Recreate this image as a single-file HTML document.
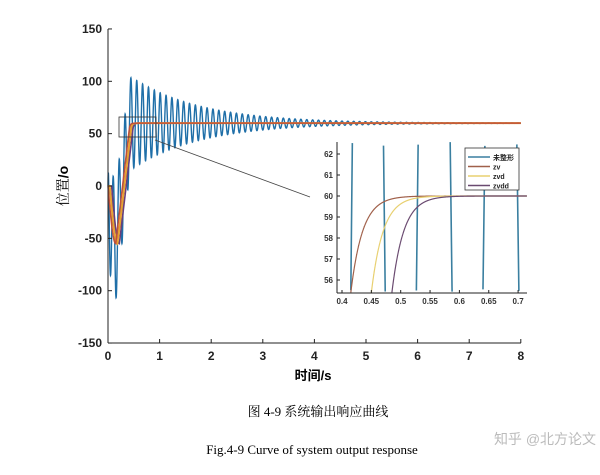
<!DOCTYPE html>
<html><head><meta charset="utf-8"><style>
body{margin:0;background:#fff;width:600px;height:470px;overflow:hidden}
text{font-family:"Liberation Sans","Noto Sans CJK SC",sans-serif}
</style></head><body>
<svg id="s" width="600" height="470" xmlns="http://www.w3.org/2000/svg">
<g id="main"></g>
<rect x="119" y="117" width="37" height="20" fill="none" stroke="#333" stroke-width="0.8"/>
<line x1="155" y1="140" x2="310" y2="197" stroke="#444" stroke-width="0.8"/>
<rect x="337" y="142" width="190" height="151" fill="#fff"/>
<g id="inset"></g>
<g id="axes" font-weight="bold" font-size="12" fill="#222"></g>
<text x="68" y="186" font-size="14" transform="rotate(-90 68 186)" text-anchor="middle"><tspan style="font-family:'Noto Serif CJK SC',serif">位置</tspan><tspan font-weight="bold">/o</tspan></text>
<text x="313" y="380" font-size="13" text-anchor="middle" font-weight="bold">时间/s</text>
<text x="318" y="416" font-size="13" text-anchor="middle" style="font-family:'Liberation Serif','Noto Serif CJK SC',serif">图 4-9  系统输出响应曲线</text>
<text x="312" y="454" font-size="13" text-anchor="middle" style="font-family:'Liberation Serif',serif">Fig.4-9 Curve of system output response</text>
<text x="545" y="444" font-size="14" text-anchor="middle" fill="#bbb">知乎 @北方论文</text>
</svg>
<script>
const NS="http://www.w3.org/2000/svg";
function el(p,n,a,t){const e=document.createElementNS(NS,n);for(const k in a)e.setAttribute(k,a[k]);if(t!==undefined)e.textContent=t;p.appendChild(e);return e;}
function base(t,s){t-=s;if(t<=0)return 0;if(t<0.15)return -55*Math.sin(Math.PI/2*t/0.15);
 if(t<0.415)return -55+(t-0.15)*(110.4/0.265);return 60-4.6*Math.exp(-(t-0.415)/0.02);}
function blue(t){const A=62*Math.exp(-0.75*t)*(1-Math.exp(-t/0.01));return base(t,0)+A*Math.sin(2*Math.PI*8.8*(t-0.415));}
const M=document.getElementById('main'),I=document.getElementById('inset'),X=document.getElementById('axes');
const mx=t=>108+t*51.6, my=v=>186-v*1.047;
function path(g,f,t0,t1,n,sx,sy,col,w){let d='';for(let i=0;i<=n;i++){const t=t0+(t1-t0)*i/n;let v=f(t);let y=sy(v);d+=(i?'L':'M')+sx(t).toFixed(2)+' '+y.toFixed(2);}el(g,'path',{d,fill:'none',stroke:col,'stroke-width':w});}
path(M,blue,0,8,4000,mx,my,'#1f6fa8',1.4);
path(M,t=>base(t,0.07),0,8,800,mx,my,'#6a3d7a',1.6);
path(M,t=>base(t,0.035),0,8,800,mx,my,'#e8a030',2);
path(M,t=>base(t,0),0,8,800,mx,my,'#c0503a',1.5);
el(X,'line',{x1:108,y1:29,x2:108,y2:343,stroke:'#222','stroke-width':1});
el(X,'line',{x1:108,y1:343,x2:521,y2:343,stroke:'#222','stroke-width':1});
for(let v=-150;v<=150;v+=50){el(X,'line',{x1:108,y1:my(v),x2:112,y2:my(v),stroke:'#222'});el(X,'text',{x:102,y:my(v)+4,'text-anchor':'end'},v);}
for(let t=0;t<=8;t++){el(X,'line',{x1:mx(t),y1:343,x2:mx(t),y2:339,stroke:'#222'});el(X,'text',{x:mx(t),y:360,'text-anchor':'middle'},t);}
const ix=t=>342+(t-0.4)*587, iy=v=>196-(v-60)*21;
function ipath(f,col,w){let d='',first=true;for(let i=0;i<=3000;i++){const t=0.392+0.323*i/3000;const y=iy(f(t));if(y>293||y<142){first=true;continue;}d+=(first?'M':'L')+ix(t).toFixed(2)+' '+y.toFixed(2);first=false;}el(I,'path',{d,fill:'none',stroke:col,'stroke-width':w});}
ipath(blue,'#3a7fa0',1.6);
ipath(t=>base(t,0),'#a0604a',1.2);
ipath(t=>base(t,0.035),'#e8d070',1.2);
ipath(t=>base(t,0.07),'#6a4a70',1.2);
el(I,'line',{x1:337,y1:142,x2:337,y2:293,stroke:'#222'});
el(I,'line',{x1:337,y1:293,x2:527,y2:293,stroke:'#222'});
for(let v=56;v<=62;v++){el(I,'line',{x1:337,y1:iy(v),x2:340,y2:iy(v),stroke:'#222'});el(I,'text',{x:333,y:iy(v)+3,'text-anchor':'end','font-size':8,'font-weight':'bold',fill:'#333'},v);}
[0.4,0.45,0.5,0.55,0.6,0.65,0.7].forEach(t=>{el(I,'line',{x1:ix(t),y1:293,x2:ix(t),y2:290,stroke:'#222'});el(I,'text',{x:ix(t),y:304,'text-anchor':'middle','font-size':8,'font-weight':'bold',fill:'#333'},t);});
el(I,'rect',{x:465,y:148,width:54,height:42,fill:'#fff',stroke:'#333','stroke-width':0.8});
[['未整形','#3a7fa0'],['zv','#a0604a'],['zvd','#e8d070'],['zvdd','#6a4a70']].forEach((a,i)=>{const y=157+i*9.5;el(I,'line',{x1:468,y1:y,x2:490,y2:y,stroke:a[1],'stroke-width':1.5});el(I,'text',{x:493,y:y+3,'font-size':7,'font-weight':'bold',fill:'#222'},a[0]);});
</script>
</body></html>
